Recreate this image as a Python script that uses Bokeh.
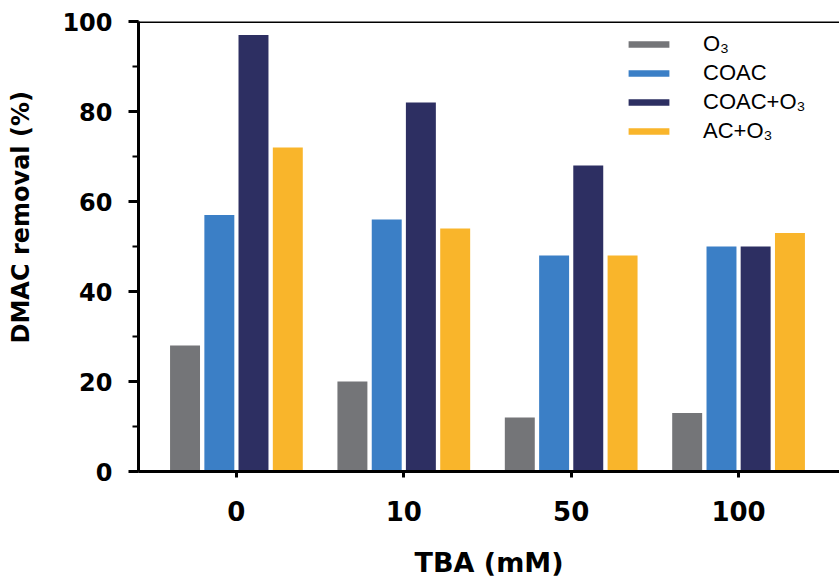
from bokeh.plotting import figure
from bokeh.models import (ColumnDataSource, FixedTicker, SingleIntervalTicker, Range1d,
                          Legend, LegendItem, Span)
from bokeh.embed import file_html
from bokeh.resources import INLINE

categories = ["0", "10", "50", "100"]
series_names = ["O\u2083", "COAC", "COAC+O\u2083", "AC+O\u2083"]
o3 = [28, 20, 12, 13]
coac = [57, 56, 48, 50]
coac_o3 = [97, 82, 68, 50]
ac_o3 = [72, 54, 48, 53]
colors = ["#747578", "#3b7fc6", "#2d2f62", "#f9b52b"]

series = [o3, coac, coac_o3, ac_o3]
offsets = [-0.307, -0.102, 0.102, 0.307]
bar_width = 0.179
xs = list(range(len(categories)))

p = figure(width=839, height=580, output_backend="svg", toolbar_location=None,
           x_range=Range1d(-0.585, 3.603), y_range=Range1d(0, 100),
           min_border_left=138, min_border_right=0, min_border_top=21,
           min_border_bottom=108)
p.outline_line_color = None
p.xgrid.visible = False
p.ygrid.visible = False
p.background_fill_color = "white"
p.border_fill_color = "white"

renderers = []
for vals, off, col in zip(series, offsets, colors):
    src = ColumnDataSource(dict(x=[x + off for x in xs], top=vals))
    r = p.vbar(x="x", top="top", width=bar_width, bottom=0, source=src,
               fill_color=col, line_color=None)
    renderers.append(r)

# axes
xa = p.xaxis[0]
xa.ticker = FixedTicker(ticks=xs)
xa.major_label_overrides = {i: c for i, c in enumerate(categories)}
xa.minor_tick_line_color = None
xa.axis_line_width = 3
xa.major_tick_line_width = 3
xa.major_tick_out = 6
xa.major_tick_in = 0
xa.major_label_text_font = "DejaVu Sans"
xa.major_label_text_font_style = "bold"
xa.major_label_text_font_size = "26px"
xa.major_label_text_color = "black"
xa.major_label_standoff = 23
xa.axis_label = "TBA (mM)"
xa.axis_label_text_font = "DejaVu Sans"
xa.axis_label_text_font_style = "bold"
xa.axis_label_text_font_size = "27px"
xa.axis_label_text_color = "black"
xa.axis_label_standoff = 23

ya = p.yaxis[0]
ya.ticker = SingleIntervalTicker(interval=20, num_minor_ticks=2)
ya.axis_line_width = 3
ya.major_tick_line_width = 3
ya.minor_tick_line_width = 2
ya.major_tick_out = 10
ya.major_tick_in = 0
ya.minor_tick_out = 6
ya.minor_tick_in = 0
ya.major_label_text_font = "DejaVu Sans"
ya.major_label_text_font_style = "bold"
ya.major_label_text_font_size = "24px"
ya.major_label_text_color = "black"
ya.major_label_standoff = 16
# leading no-break spaces lift the title, as in the reference
ya.axis_label = "\u00a0" * 7 + "DMAC removal (%)"
ya.axis_label_text_font = "DejaVu Sans"
ya.axis_label_text_font_style = "bold"
ya.axis_label_text_font_size = "24px"
ya.axis_label_text_color = "black"
ya.axis_label_standoff = 24

# top border line
p.add_layout(Span(location=100, dimension="width", line_color="black", line_width=3))

legend = Legend(items=[LegendItem(label=n, renderers=[r]) for n, r in zip(series_names, renderers)],
                location=(485, 327), orientation="vertical",
                glyph_width=51, glyph_height=8, label_standoff=29,
                label_text_font="Liberation Sans", label_text_font_size="22px",
                label_text_color="black", label_height=22, spacing=3,
                padding=0, margin=0, border_line_color=None,
                background_fill_alpha=0)
p.add_layout(legend)

open("out.html", "w").write(file_html(p, INLINE))
